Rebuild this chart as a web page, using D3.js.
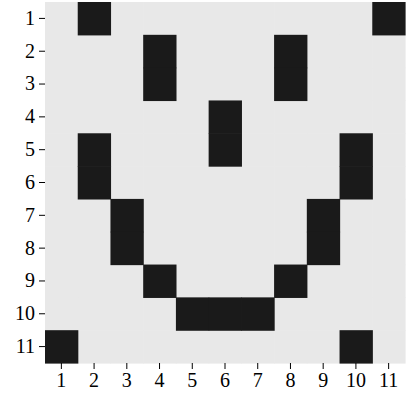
<!DOCTYPE html>
<html><head><script src="https://cdn.jsdelivr.net/npm/d3@7"></script>
<style>body{margin:0;background:#fff} text{font-family:"Liberation Serif","Times New Roman",serif !important}</style></head><body>
<svg id="c" width="406" height="402"></svg>
<script>
const rows = [1,2,3,4,5,6,7,8,9,10,11];
const cols = [1,2,3,4,5,6,7,8,9,10,11];
// black cells: [row, col]
const blackCells = [[1,2],[1,11],[2,4],[2,8],[3,4],[3,8],[4,6],[5,2],[5,6],[5,10],[6,2],[6,10],[7,3],[7,9],[8,3],[8,9],[9,4],[9,8],[10,5],[10,6],[10,7],[11,1],[11,10]];
const svg = d3.select("#c");
const m = {l:45, t:2, r:1, b:39};
const W = 406-m.l-m.r, H = 402-m.t-m.b;
const g = svg.append("g").attr("transform",`translate(${m.l},${m.t})`);
const x = d3.scaleBand().domain(cols).range([0,W]);
const y = d3.scaleBand().domain(rows).range([0,H]);
const set = new Set(blackCells.map(d=>d[0]+"-"+d[1]));
const cells = [];
rows.forEach(r=>cols.forEach(c=>cells.push({r,c,on:set.has(r+"-"+c)})));
cells.sort((a,b)=>a.on-b.on);
g.selectAll("rect").data(cells).join("rect")
 .attr("x",d=>x(d.c)).attr("y",d=>y(d.r)).attr("width",x.bandwidth()+0.6).attr("height",y.bandwidth()+0.6)
 .attr("fill",d=>d.on?"#1a1a1a":"#e8e8e8");
const ax = g.append("g").attr("transform",`translate(0,${H})`).call(d3.axisBottom(x).tickSize(6).tickPadding(4));
const ay = g.append("g").call(d3.axisLeft(y).tickSize(6).tickPadding(4));
[ax,ay].forEach(a=>{a.select(".domain").remove();a.selectAll("line").attr("stroke","#000");a.selectAll("text").attr("font-size",20).attr("fill","#000");});
</script></body></html>
